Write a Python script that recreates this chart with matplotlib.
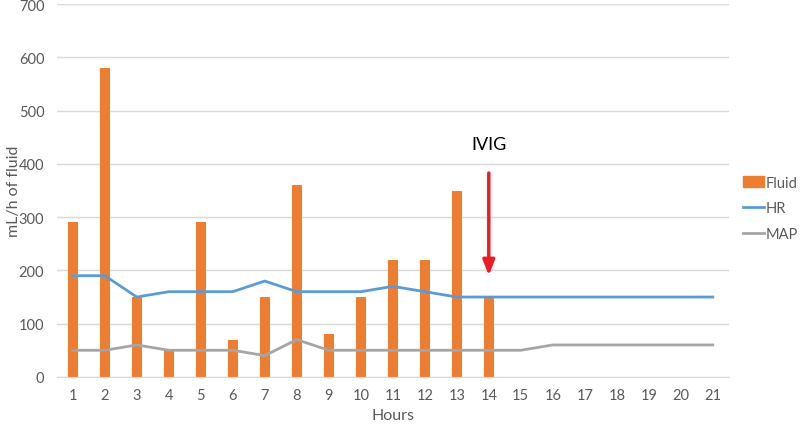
import matplotlib
matplotlib.use("Agg")
import matplotlib.pyplot as plt
from matplotlib.patches import Patch
from matplotlib.lines import Line2D

hours = list(range(1, 22))
fluid_hours = list(range(1, 15))
fluid = [290, 580, 150, 50, 290, 70, 150, 360, 80, 150, 220, 220, 350, 150]
hr = [190, 190, 150, 160, 160, 160, 180, 160, 160, 160, 170, 160, 150, 150,
      150, 150, 150, 150, 150, 150, 150]
map_ = [50, 50, 60, 50, 50, 50, 40, 70, 50, 50, 50, 50, 50, 50,
        50, 60, 60, 60, 60, 60, 60]

plt.rcParams['font.family'] = ['Lato', 'DejaVu Sans']

fig = plt.figure(figsize=(8, 4.27), dpi=100)
ax = fig.add_axes([0.071, 0.115, 0.84, 0.873])

orange = '#ED7D31'
blue = '#5B9BD5'
grey = '#A5A5A5'
txt = '#595959'

ax.bar(fluid_hours, fluid, width=0.3, color=orange, zorder=2)
ax.plot(hours, hr, color=blue, lw=2, zorder=3)
ax.plot(hours, map_, color=grey, lw=2, zorder=3)

ax.set_xlim(0.5, 21.5)
ax.set_ylim(0, 700)
ax.set_yticks(range(0, 701, 100))
ax.set_xticks(hours)
ax.grid(axis='y', color='#D9D9D9', lw=1, zorder=0)
for s in ['top', 'right', 'left']:
    ax.spines[s].set_visible(False)
ax.spines['bottom'].set_color('#D9D9D9')
ax.tick_params(length=0, colors=txt, labelsize=10.5, pad=8)
ax.tick_params(axis='y', pad=9)
ax.set_xlabel('Hours', color=txt, fontsize=11.5, labelpad=4)
ax.set_ylabel('mL/h of fluid', color=txt, fontsize=11.5)
ax.yaxis.set_label_coords(-0.053, 0.5)

ax.annotate('', xy=(14, 185), xytext=(14, 388),
            arrowprops=dict(arrowstyle='-|>,head_width=0.35,head_length=0.9',
                            color='#ED1C24', lw=2.5), zorder=5)
ax.text(14, 437, 'IVIG', ha='center', va='center', fontsize=13, color='black')

handles = [Patch(color=orange), Line2D([], [], color=blue, lw=2),
           Line2D([], [], color=grey, lw=2)]
fig.legend(handles, ['Fluid', 'HR', 'MAP'], loc='center left',
           bbox_to_anchor=(0.929, 0.51), frameon=False, labelcolor=txt,
           fontsize=10.5, handlelength=1.4, handletextpad=0.15, labelspacing=0.8,
           borderpad=0, borderaxespad=0)

fig.savefig('out.png', dpi=100)
